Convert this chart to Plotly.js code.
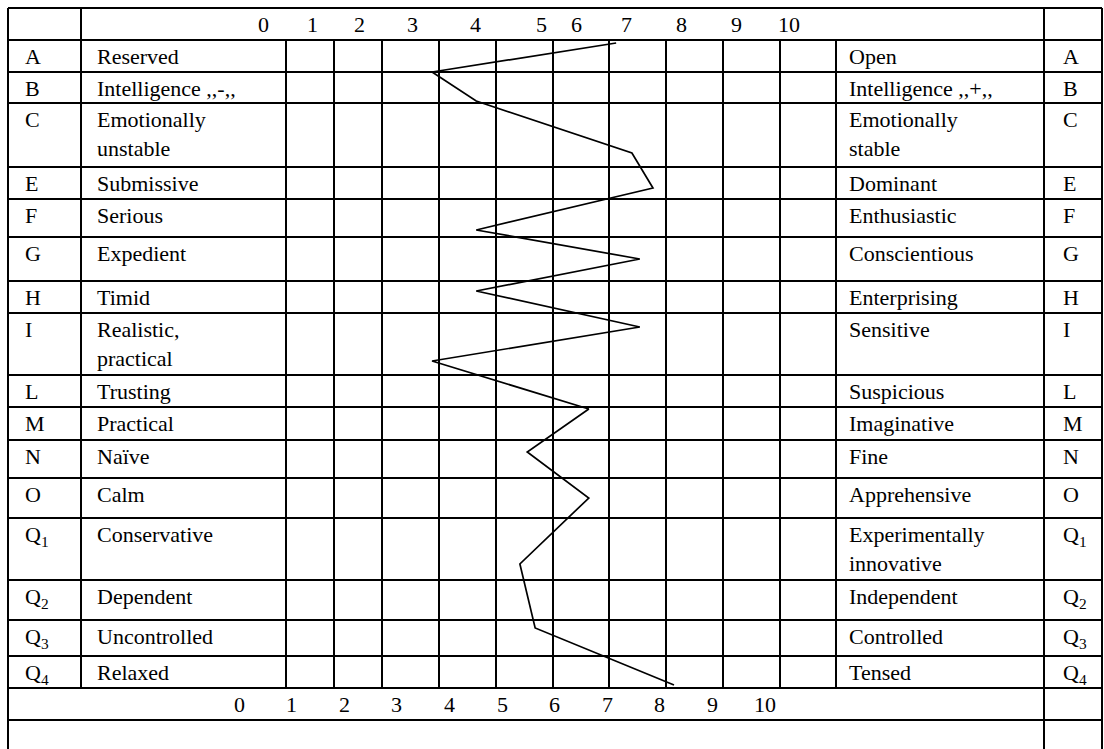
<!DOCTYPE html>
<html>
<head>
<meta charset="utf-8">
<script src="https://cdn.plot.ly/plotly-3.0.1.min.js"></script>
<style>html,body{margin:0;padding:0;background:#fff;}#chart{width:1104px;height:749px;}</style>
</head>
<body>
<div id="chart"></div>
<script>
// ---------- data ----------
const factorCodes = ['A','B','C','E','F','G','H','I','L','M','N','O','Q<sub>1</sub>','Q<sub>2</sub>','Q<sub>3</sub>','Q<sub>4</sub>'];
const leftPoles = ['Reserved','Intelligence ,,-,,','Emotionally<br>unstable','Submissive','Serious','Expedient','Timid','Realistic,<br>practical','Trusting','Practical','Naïve','Calm','Conservative','Dependent','Uncontrolled','Relaxed'];
const rightPoles = ['Open','Intelligence ,,+,,','Emotionally<br>stable','Dominant','Enthusiastic','Conscientious','Enterprising','Sensitive','Suspicious','Imaginative','Fine','Apprehensive','Experimentally<br>innovative','Independent','Controlled','Tensed'];
const scaleLabels = ['0','1','2','3','4','5','6','7','8','9','10'];
// profile line: score (x) and vertical position in the table (table units from top)
const profileScores = [7.17, 3.67, 4.51, 7.47, 7.87, 4.51, 7.62, 4.51, 7.62, 3.67, 6.65, 5.48, 6.65, 5.34, 5.63, 8.27];
const profileDepth  = [43, 72, 101, 153, 188, 230, 259, 291, 327, 361, 409, 452, 498, 564, 628, 685];

// ---------- layout geometry (table structure) ----------
const W = 1104, H = 749;
const rowEdges = [8,40,72,103,167,199,237,281,313,375,407,440,478,518,580,620,656,688,720];
const gridCols = [286,334,382,439,496,553,609,666,723,780,836];
const leftBorder = 8, codeSep = 81, rightSep = 1044, rightBorder = 1102;
const topScalePos = [0.46,1.39,2.30,3.30,4.49,5.76,6.42,7.37,8.42,9.45,10.46];
const bottomScalePos = [0,1,2,3,4,5,6,7,8,9,10];
const xRange = [-4.544, 16.445];

const FONT = {family:'"Liberation Serif","Times New Roman",serif', size:22, color:'#000'};
const px = x => x / W;
const LW = 2;

const shapes = [];
function hline(y, x0, x1){ shapes.push({type:'line', xref:'paper', yref:'y', x0:px(x0), x1:px(x1), y0:y, y1:y, line:{color:'#000', width:LW}}); }
function vline(x, y0, y1){ shapes.push({type:'line', xref:'paper', yref:'y', x0:px(x), x1:px(x), y0:y0, y1:y1, line:{color:'#000', width:LW}}); }

rowEdges.forEach(y => hline(y, leftBorder, rightBorder));
vline(leftBorder, rowEdges[0], H + 5);
vline(rightSep, rowEdges[0], H + 5);
vline(rightBorder, rowEdges[0], H + 5);
vline(codeSep, rowEdges[0], rowEdges[17]);
gridCols.forEach(x => vline(x, rowEdges[1], rowEdges[17]));

const annotations = [];
function txt(text, x, y){
  annotations.push({text:text, x:x, y:y, xref:'paper', yref:'y', xanchor:'left', yanchor:'top', align:'left', showarrow:false, font:FONT, borderpad:0});
}
for (let i = 0; i < factorCodes.length; i++) {
  const top = rowEdges[i+1] + 3;
  txt(factorCodes[i], px(24), top);
  txt(leftPoles[i], px(96), top);
  txt(rightPoles[i], px(848), top);
  txt(factorCodes[i], px(1062), top);
}
function scaleTxt(text, x, y){
  annotations.push({text:text, x:x, y:y, xref:'x', yref:'y', xanchor:'center', yanchor:'top', showarrow:false, font:FONT, borderpad:0});
}
scaleLabels.forEach((t,i) => {
  scaleTxt(t, topScalePos[i], rowEdges[0] + 3);
  scaleTxt(t, bottomScalePos[i], rowEdges[17] + 3);
});

const trace = {
  type:'scatter', mode:'lines', x: profileScores, y: profileDepth,
  line:{color:'#000', width:1.7}, hoverinfo:'skip', showlegend:false
};

const layout = {
  width:W, height:H, margin:{l:0,r:0,t:0,b:0},
  paper_bgcolor:'#fff', plot_bgcolor:'#fff',
  xaxis:{range:xRange, visible:false, fixedrange:true},
  yaxis:{range:[H,0], visible:false, fixedrange:true},
  shapes:shapes, annotations:annotations, showlegend:false
};
Plotly.newPlot('chart', [trace], layout, {staticPlot:true, displayModeBar:false});
</script>
</body>
</html>
